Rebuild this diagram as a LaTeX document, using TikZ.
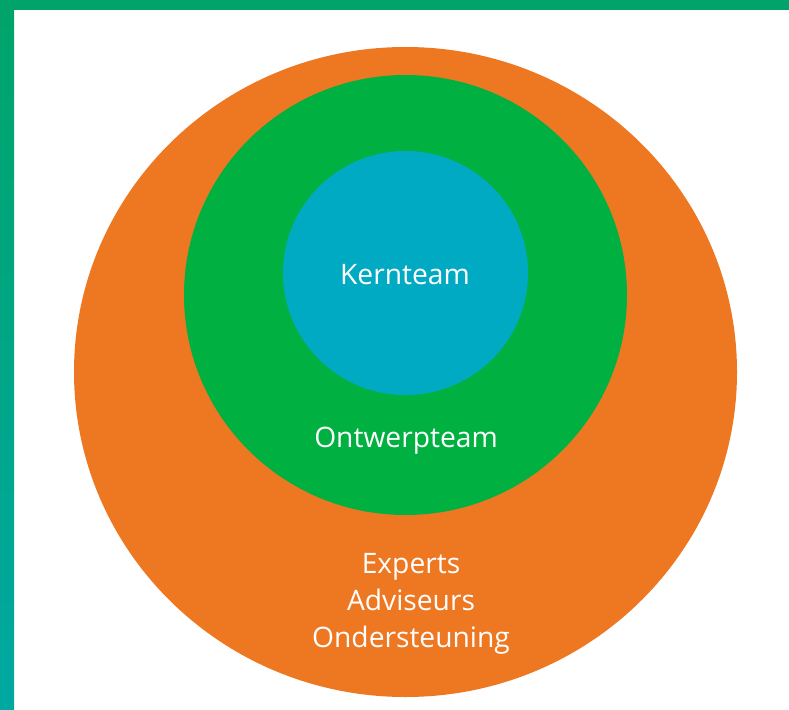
\documentclass[tikz,border=0pt]{standalone}
\usepackage{fontspec}
\setmainfont{Open Sans}
\usepackage{tikz}
\usetikzlibrary{shapes.geometric, positioning}
\definecolor{BarGreen}{HTML}{00A46A}
\definecolor{BarTeal}{HTML}{00A8A2}
\definecolor{RingOrange}{HTML}{EE7722}
\definecolor{RingGreen}{HTML}{00B040}
\definecolor{RingBlue}{HTML}{00AAC3}
\tikzstyle{ring} = [ellipse, inner sep=0pt, draw=none]
\tikzstyle{ringtext} = [text=white, inner sep=0pt, align=center, font=\fontsize{28.2}{36.8}\selectfont]

\begin{document}
\begin{tikzpicture}[x=1pt, y=-1pt]
      \useasboundingbox (0,0) rectangle (789,709);
      % frame bars
      \fill[BarGreen] (0,0) rectangle (789,10);
      \shade[top color=BarGreen, bottom color=BarTeal] (0,10) rectangle (14,709);
      % rings
      \node (outer) [ring, fill=RingOrange, minimum width=663pt, minimum height=650pt] at (405.5,372) {};
      \node (middle) [ring, fill=RingGreen, minimum width=443pt, minimum height=440pt] at (405.5,295) {};
      \node (inner) [ring, fill=RingBlue, minimum width=245pt, minimum height=244pt] at (405.5,273) {};
      % texts
      \node (core) [ringtext, anchor=base] at (405,284) {Kernteam};
      \node (design) [ringtext, anchor=base] at (406,447) {Ontwerpteam};
      \node (support) [ringtext] at (411,604) {Experts\\Adviseurs\\Ondersteuning};
\end{tikzpicture}
\end{document}
